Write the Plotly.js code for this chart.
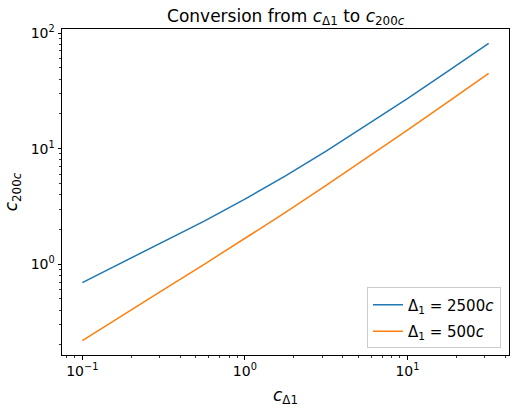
<!DOCTYPE html>
<html>
<head>
<meta charset="utf-8">
<script src="https://cdn.plot.ly/plotly-3.0.1.min.js"></script>
<style>html,body{margin:0;padding:0;background:#fff;}#chart{width:518px;height:410px;}</style>
</head>
<body>
<div id="chart"></div>
<script>
// c_Δ1 values (x axis)
const cDelta1 = [0.1, 0.1778, 0.3162, 0.5623, 1, 1.778, 3.162, 5.623, 10, 17.78, 31.62];
// c_200c for Δ1 = 2500c
const c200_from2500 = [0.693, 1.040, 1.558, 2.359, 3.651, 5.810, 9.504, 15.91, 27.10, 46.75, 81.32];
// c_200c for Δ1 = 500c
const c200_from500 = [0.218, 0.364, 0.603, 0.997, 1.662, 2.805, 4.796, 8.295, 14.47, 25.38, 44.71];

const seriesNames = ["Δ<sub>1</sub> = 2500<i>c</i>", "Δ<sub>1</sub> = 500<i>c</i>"];
const xTickVals = [0.1, 1, 10];
const xTickText = ["10<sup>−1</sup>", "10<sup>0</sup>", "10<sup>1</sup>"];
const yTickVals = [1, 10, 100];
const yTickText = ["10<sup>0</sup>", "10<sup>1</sup>", "10<sup>2</sup>"];

function minorTicks(lo, hi) {
  const out = [];
  for (let e = -3; e <= 3; e++) {
    for (let m = 2; m <= 9; m++) {
      const v = m * Math.pow(10, e);
      if (v >= lo && v <= hi) out.push(v);
    }
  }
  return out;
}

const xRange = [-1.125, 1.625];
const yRange = [-0.786, 2.035];

const font = "DejaVu Sans, sans-serif";

const traces = [
  {x: cDelta1, y: c200_from2500, type: "scatter", mode: "lines", name: seriesNames[0],
   legendgroup: "g1", line: {color: "#1f77b4", width: 1.5}},
  {x: cDelta1, y: c200_from500, type: "scatter", mode: "lines", name: seriesNames[1],
   legendgroup: "g2", line: {color: "#ff7f0e", width: 1.5}}
];

const axisCommon = {
  type: "log",
  showgrid: false,
  zeroline: false,
  showline: true,
  mirror: true,
  linecolor: "#000",
  linewidth: 1,
  ticks: "outside",
  ticklen: 3.5,
  tickwidth: 1,
  tickcolor: "#000",
  tickmode: "array",
  tickfont: {family: font, size: 14, color: "#000"}
};

const layout = {
  width: 518, height: 410,
  margin: {l: 62, r: 9, t: 29, b: 55},
  paper_bgcolor: "#fff", plot_bgcolor: "#fff",
  font: {family: font, color: "#000"},
  title: {text: "Conversion from <i>c</i><sub>Δ1</sub> to <i>c</i><sub>200<i>c</i></sub>",
          font: {family: font, size: 17, color: "#000"},
          x: 0.5515, xanchor: "center", y: 0.962, yanchor: "middle"},
  xaxis: Object.assign({}, axisCommon, {
    range: xRange, tickvals: xTickVals, ticktext: xTickText,
    minor: {tickmode: "array", tickvals: minorTicks(0.05, 50), ticks: "outside", ticklen: 2, tickwidth: 0.8, tickcolor: "#000", showgrid: false},
    title: {text: "<i>c</i><sub>Δ1</sub>", font: {family: font, size: 17, color: "#000"}, standoff: 10}
  }),
  yaxis: Object.assign({}, axisCommon, {
    range: yRange, tickvals: yTickVals, ticktext: yTickText,
    minor: {tickmode: "array", tickvals: minorTicks(0.1, 150), ticks: "outside", ticklen: 2, tickwidth: 0.8, tickcolor: "#000", showgrid: false},
    title: {text: "<i>c</i><sub>200<i>c</i></sub>", font: {family: font, size: 17, color: "#000"}, standoff: 8}
  }),
  showlegend: true,
  legend: {x: 0.982, xanchor: "right", y: 0.02, yanchor: "bottom",
           traceorder: "grouped", tracegroupgap: 4,
           bgcolor: "rgba(255,255,255,0.8)", bordercolor: "#cccccc", borderwidth: 1,
           font: {family: font, size: 15, color: "#000"}}
};

Plotly.newPlot("chart", traces, layout, {displayModeBar: false, staticPlot: true});
</script>
</body>
</html>
